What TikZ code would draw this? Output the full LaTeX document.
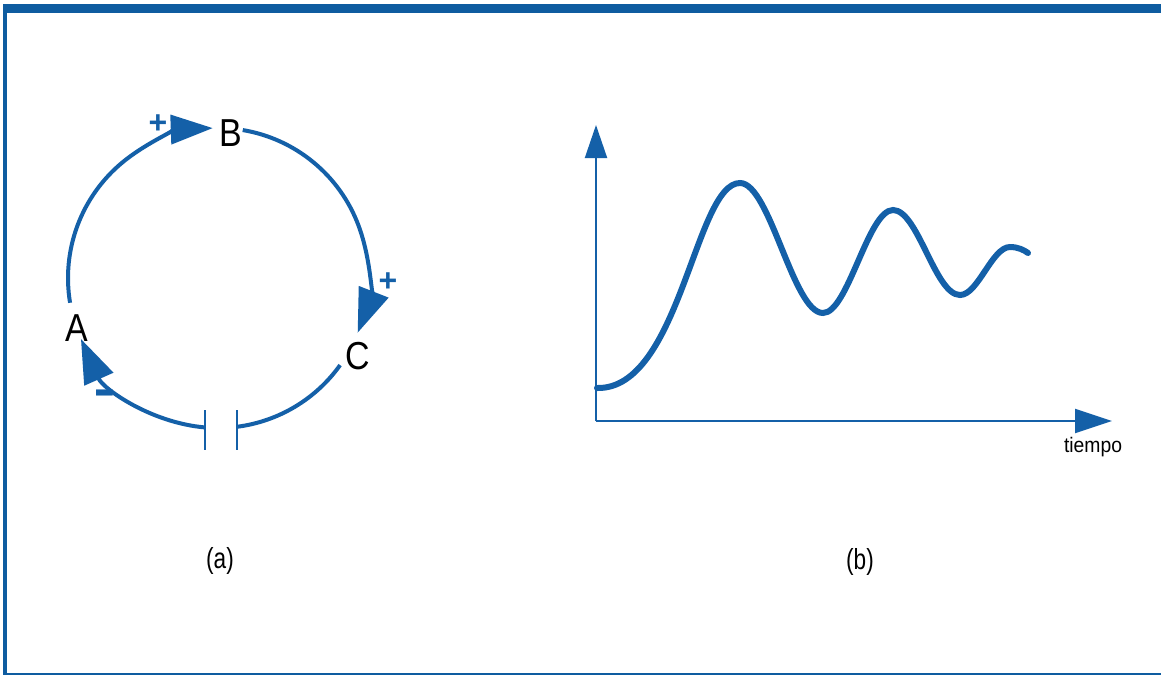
\documentclass[tikz,border=0pt]{standalone}
\usepackage{fontspec}
\setmainfont{Liberation Sans}
\usepackage{graphicx}
\usetikzlibrary{arrows.meta}
\definecolor{lblue}{RGB}{20,96,168}
\definecolor{frameblue}{RGB}{14,92,160}
\tikzset{
  x=1pt, y=1pt,
  loopline/.style={draw=lblue, line width=4pt},
  bigtip/.style={-{Triangle[length=#1pt, width=29pt]}},
  plate/.style={draw=lblue, line width=2pt},
  axisline/.style={draw=lblue, line width=2pt},
  curveline/.style={draw=lblue, line width=6pt, line cap=round},
  letter/.style={font=\fontsize{39}{40}\selectfont, inner sep=0pt, xscale=0.87, transform shape},
  sign/.style={text=lblue, font=\bfseries\fontsize{28}{28}\selectfont, inner sep=0pt},
  plussign/.style={sign, font=\bfseries\fontsize{32}{32}\selectfont},
  caption/.style={font=\fontsize{29}{30}\selectfont, inner sep=0pt, xscale=0.78, transform shape},
}
\begin{document}
\begin{tikzpicture}
\useasboundingbox (0,0) rectangle (1161,-675);
\fill[white] (0,0) rectangle (1161,-675);
% frame
\fill[frameblue] (3,-4) rectangle (1161,-13);
\fill[frameblue] (3,-4) rectangle (6.5,-675);
\fill[frameblue] (3,-672.5) rectangle (1161,-675);

% ---- (a) loop ----
\coordinate (O) at (218,-278);
\node[letter] (A) at (77,-328) {A};
\node[letter] (B) at (231,-133) {B};
\node[letter] (C) at (358,-356) {C};
\node[plussign] (pB) at (158,-124) {+};
\node[plussign] (pC) at (388,-282) {+};

\draw[loopline, bigtip=42] ([shift={(189.5:150)}]O) arc[start angle=189.5, end angle=92, radius=150];
\draw[loopline, -{Triangle[length=44pt, width=31pt]}] ([shift={(80.5:150)}]O) arc[start angle=80.5, end angle=-21.4, radius=150];
\draw[loopline] ([shift={(-35.5:150)}]O) arc[start angle=-35.5, end angle=-82.7, radius=150];
\draw[loopline, -{Triangle[length=44pt, width=31pt]}] ([shift={(265:150)}]O) arc[start angle=265, end angle=204, radius=150];
\node[sign, anchor=base] (mA) at (105,-409) {\scalebox{1.2}[2.2]{--}};
\coordinate (p1t) at (237,-410);
\coordinate (p1b) at (237,-450);
\coordinate (p2t) at (205,-410);
\coordinate (p2b) at (205,-450);
\draw[plate] (p1t) -- (p1b);
\draw[plate] (p2t) -- (p2b);

\node[caption] (capa) at (220,-561) {(a)};

% ---- (b) graph ----
\coordinate (org) at (596,-421);
\coordinate (ytop) at (596,-125);
\coordinate (xend) at (1112,-421);
\draw[axisline, -{Triangle[length=33pt, width=22pt]}] (org) -- (ytop);
\draw[axisline, -{Triangle[length=37pt, width=24pt]}] (org) -- (xend);
\node[inner sep=0pt, font=\fontsize{21}{22}\selectfont, xscale=0.92, transform shape] (tiempo) at (1093,-447) {tiempo};

\coordinate (c0) at (597,-388);
\coordinate (c1) at (740,-183);
\coordinate (c2) at (823,-313);
\coordinate (c3) at (893,-210);
\coordinate (c4) at (960,-295);
\coordinate (c5) at (1010,-247);
\coordinate (c6) at (1028,-253);
\draw[curveline] (c0) .. controls (680,-390) and (695,-183) .. (c1)
  .. controls (770,-183) and (793,-313) .. (c2)
  .. controls (848,-313) and (868,-210) .. (c3)
  .. controls (918,-210) and (935,-295) .. (c4)
  .. controls (978,-295) and (992,-247) .. (c5)
  .. controls (1018,-247) and (1024,-250) .. (c6);

\node[caption] (capb) at (860,-562) {(b)};
\end{tikzpicture}
\end{document}
